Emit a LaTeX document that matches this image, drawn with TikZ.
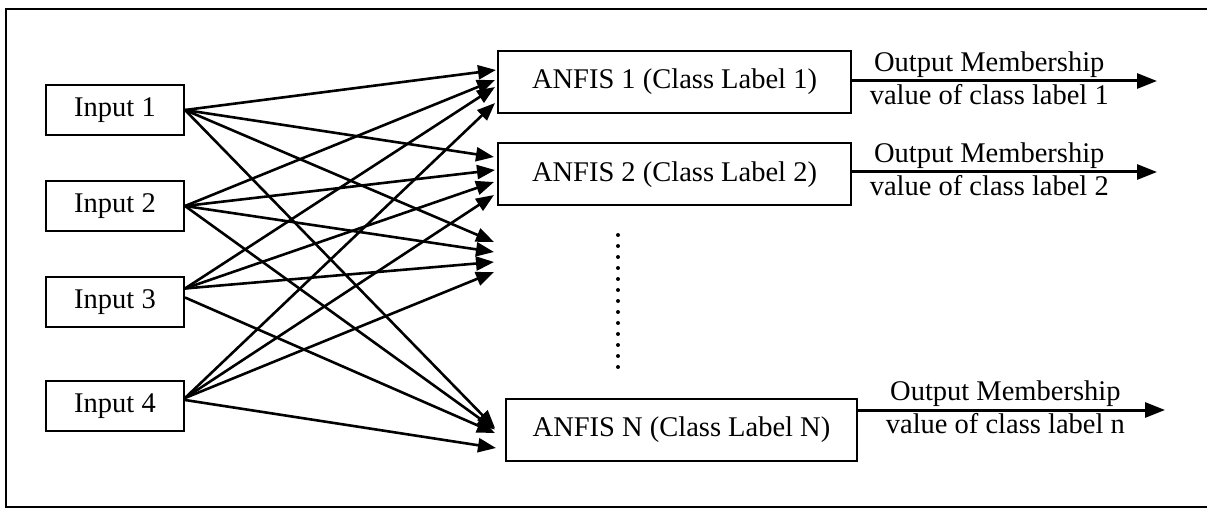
\documentclass[tikz,border=0pt]{standalone}
\usepackage{fontspec}
\setmainfont{Liberation Serif}
\usetikzlibrary{arrows.meta}
\begin{document}
\begin{tikzpicture}[x=1pt,y=-1pt,
  txt/.style={font=\fontsize{28.5}{34}\selectfont},
  box/.style={txt, draw, line width=2pt, inner sep=0pt},
  inbox/.style={box, minimum width=138pt, minimum height=50pt},
  anfisbox/.style={box, minimum width=353pt, minimum height=62pt},
  link/.style={line width=2.6pt, -{Triangle[length=18pt,width=14pt]}},
  outarr/.style={line width=3pt, -{Triangle[length=20pt,width=15pt]}},
  lbl/.style={txt, inner sep=1.5pt},
  frame/.style={line width=2.2pt}]
\useasboundingbox (0,0) rectangle (1207,510);
% outer frame (cut at the right)
\draw[frame] (1207,9) -- (6,9) -- (6,507) -- (1207,507);

% inputs
\node[inbox] (in1) at (115,110) {Input 1};
\node[inbox] (in2) at (115,206) {Input 2};
\node[inbox] (in3) at (115,302.5) {Input 3};
\node[inbox] (in4) at (115,406) {Input 4};

% ANFIS boxes
\node[anfisbox] (a1) at (674.5,82) {ANFIS 1 (Class Label 1)};
\node[anfisbox] (a2) at (674.5,174.5) {ANFIS 2 (Class Label 2)};
\node[anfisbox, minimum width=351pt] (aN) at (681.5,429.5) {ANFIS N (Class Label N)};
\coordinate (mid) at (494,257);

% dots between ANFIS 2 and ANFIS N
\foreach \i in {0,...,12} \fill (618,235+11*\i) circle (2);

% Input 1
\draw[link] (in1.east) -- ([yshift=12pt,xshift=-1pt]a1.west);
\draw[link] (in1.east) -- ([yshift=17.5pt,xshift=-3pt]a2.west);
\draw[link] (in1.east) -- ([yshift=15pt]mid);
\draw[link] (in1.east) -- ([yshift=1.5pt,xshift=-10pt]aN.west);
% Input 2
\draw[link] (in2.east) -- ([yshift=2pt,xshift=-2pt]a1.west);
\draw[link] (in2.east) -- ([yshift=4.5pt,xshift=-2pt]a2.west);
\draw[link] (in2.east) -- ([yshift=5pt]mid);
\draw[link] (in2.east) -- ([yshift=0pt,xshift=-10pt]aN.west);
% Input 3
\draw[link] ([yshift=14pt]in3.east) -- ([yshift=-5pt,xshift=-2pt]a1.west);
\draw[link] ([yshift=14pt]in3.east) -- ([yshift=-7.5pt,xshift=-3pt]a2.west);
\draw[link] ([yshift=14pt]in3.east) -- ([yshift=-5pt]mid);
\draw[link] ([yshift=5pt]in3.east) -- ([yshift=-3.5pt,xshift=-10pt]aN.west);
% Input 4
\draw[link] ([yshift=8pt]in4.east) -- ([yshift=-21pt,xshift=-2pt]a1.west);
\draw[link] ([yshift=8pt]in4.east) -- ([yshift=-20.5pt,xshift=-3pt]a2.west);
\draw[link] ([yshift=8pt]in4.east) -- ([yshift=-15pt]mid);
\draw[link] ([yshift=6pt]in4.east) -- ([yshift=-18.5pt,xshift=-9pt]aN.west);

% outputs
\coordinate (o1) at (1157,81);
\coordinate (o2) at (1157,172);
\coordinate (oN) at (1165,410);
\draw[outarr] ([yshift=1pt]a1.east) -- (o1)
  node[lbl, pos=0.45, above] {Output Membership}
  node[lbl, pos=0.45, below] {value of class label 1};
\draw[outarr] ([yshift=2.5pt]a2.east) -- (o2)
  node[lbl, pos=0.45, above] {Output Membership}
  node[lbl, pos=0.45, below] {value of class label 2};
\draw[outarr] ([yshift=19.5pt]aN.east) -- (oN)
  node[lbl, pos=0.48, above] {Output Membership}
  node[lbl, pos=0.48, below] {value of class label n};
\end{tikzpicture}
\end{document}
